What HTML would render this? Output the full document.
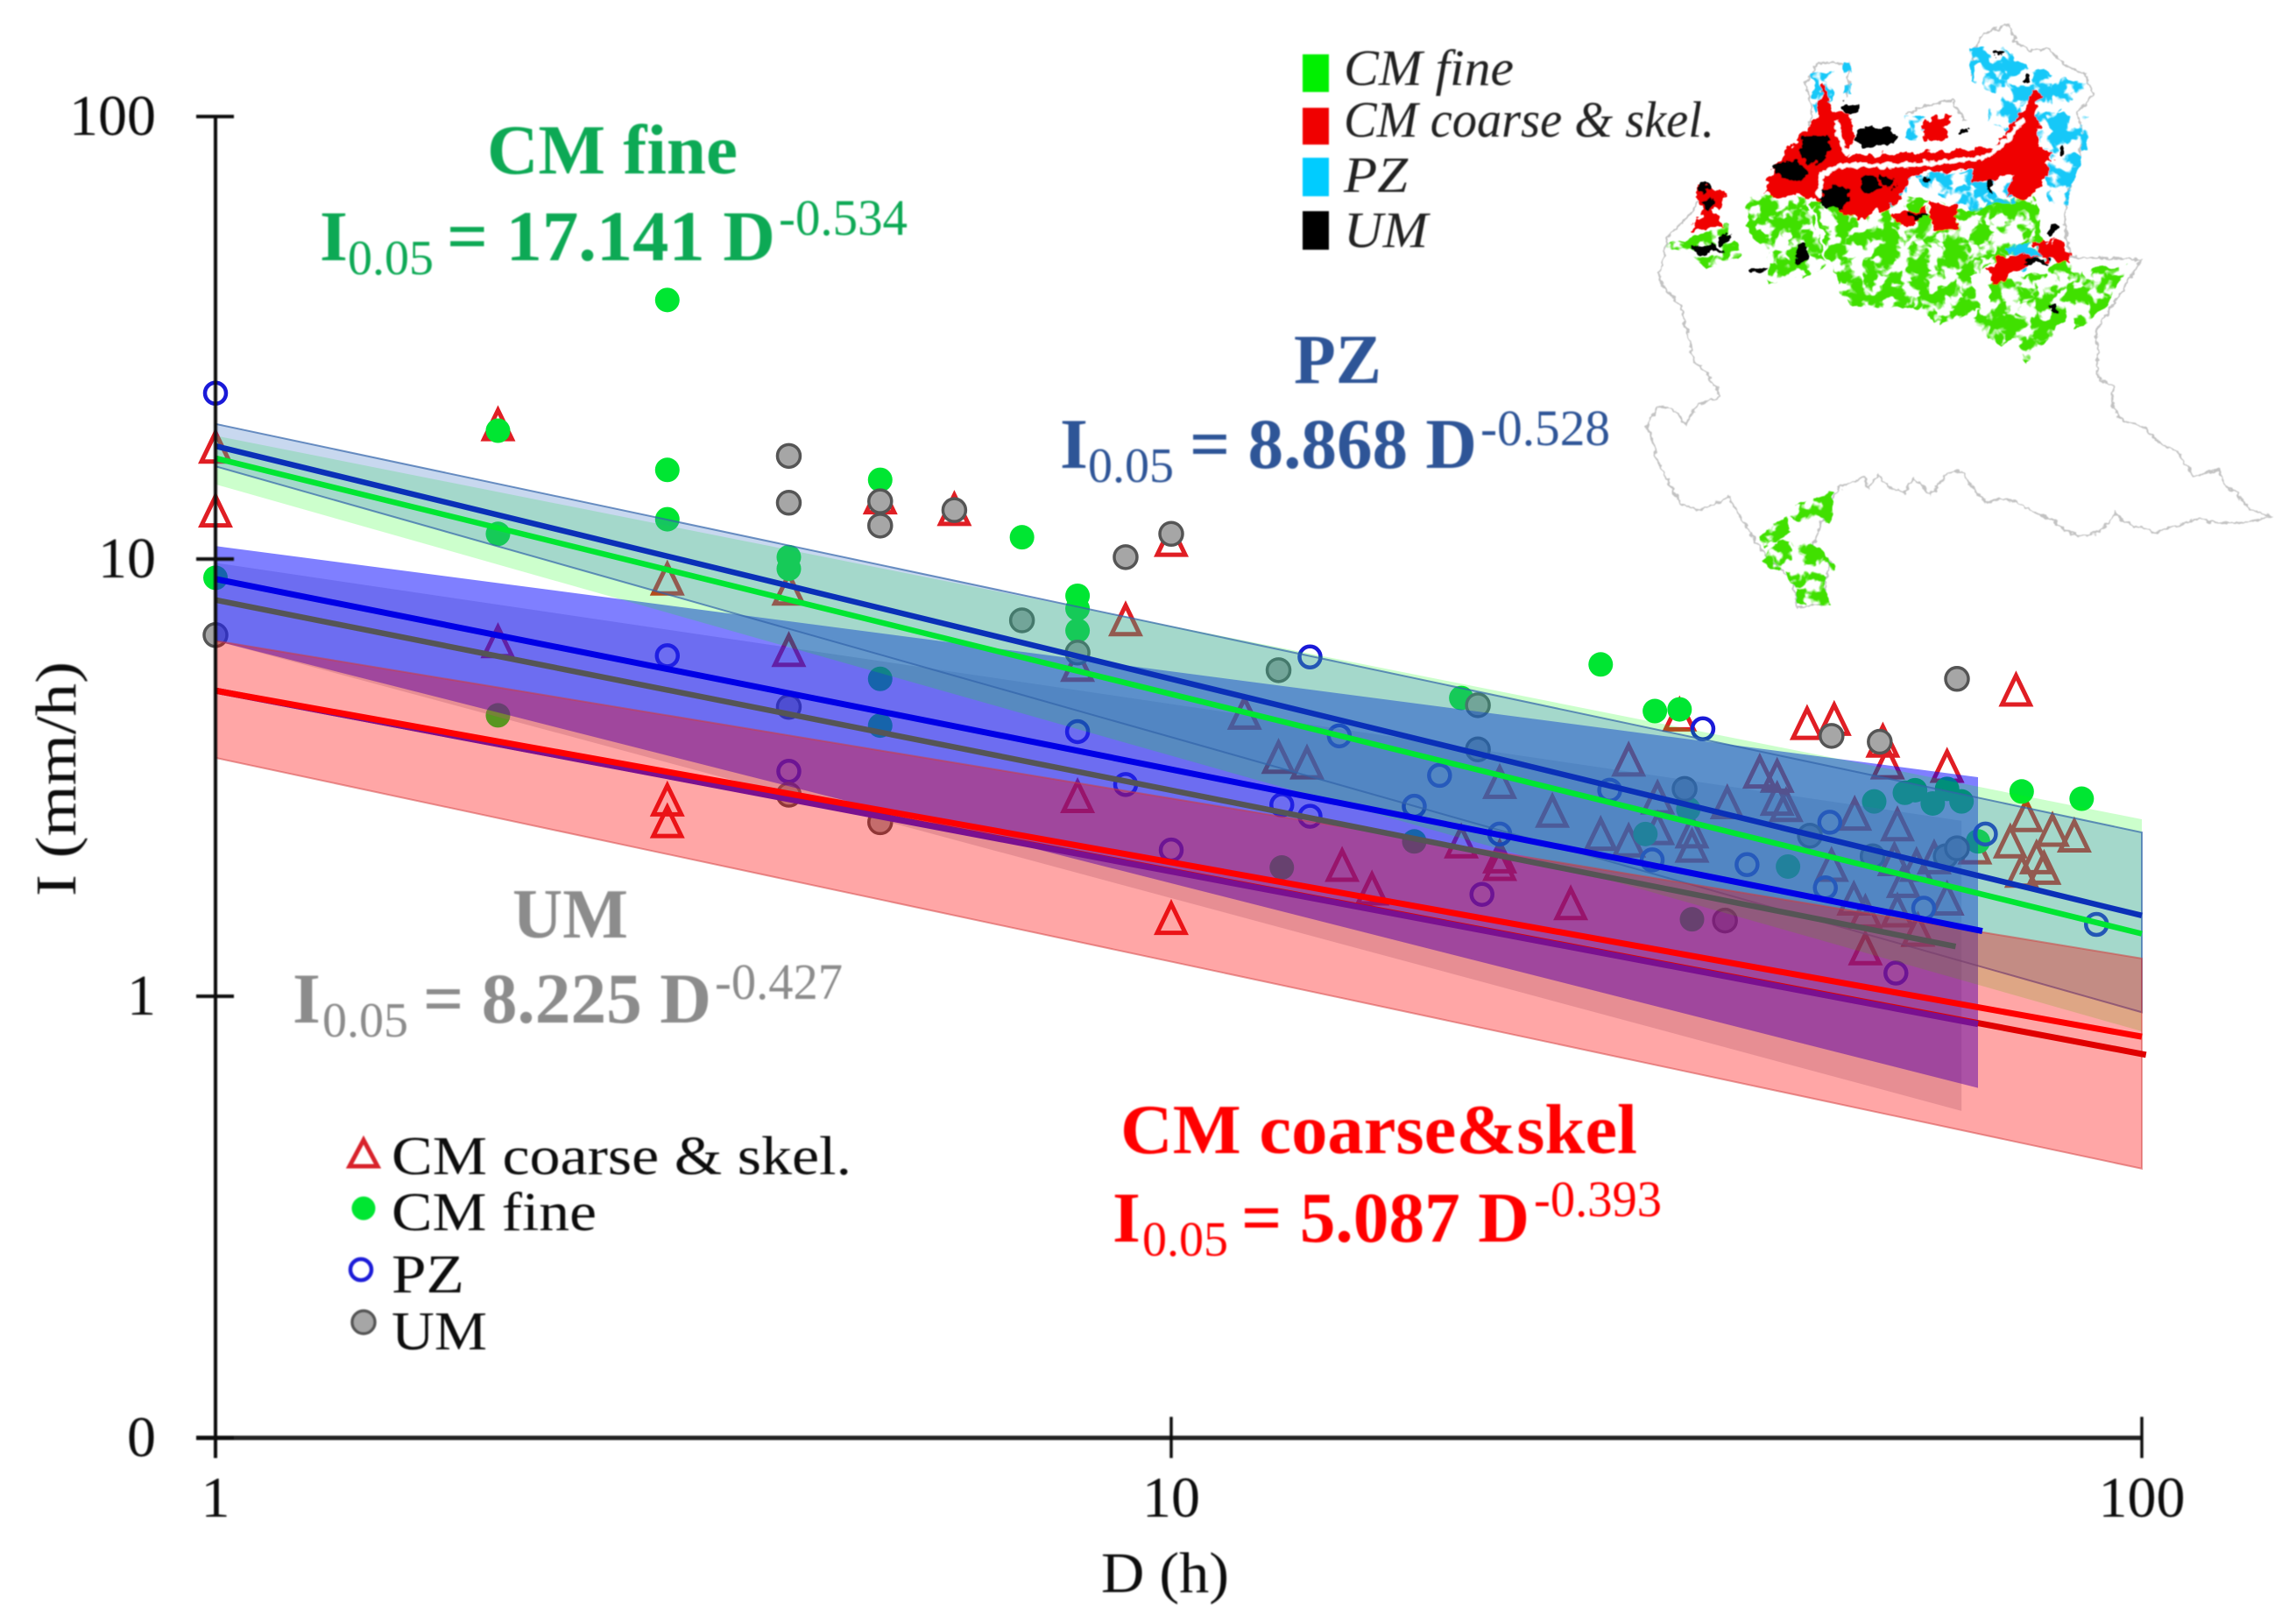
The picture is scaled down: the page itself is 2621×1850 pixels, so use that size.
<!DOCTYPE html>
<html lang="en">
<head>
<meta charset="utf-8">
<title>Rainfall intensity-duration thresholds</title>
<style>
html,body{margin:0;padding:0;background:#fff;}
svg{display:block;}
text{font-family:"Liberation Serif",serif;}
</style>
</head>
<body>
<svg id="chart" xmlns="http://www.w3.org/2000/svg" width="2621" height="1850" viewBox="0 0 2621 1850">
  <defs>
    <filter id="soft" x="-5%" y="-5%" width="110%" height="110%"><feGaussianBlur stdDeviation="1.1"/></filter>
    <filter id="softText" x="-5%" y="-20%" width="110%" height="140%"><feGaussianBlur stdDeviation="0.7"/></filter>
    <filter id="frag" x="-8%" y="-8%" width="116%" height="116%" color-interpolation-filters="sRGB">
      <feTurbulence type="fractalNoise" baseFrequency="0.028" numOctaves="3" seed="4" result="n"/>
      <feColorMatrix in="n" type="matrix" values="0 0 0 0 0  0 0 0 0 0  0 0 0 0 0  10 0 0 0 -4.3" result="mask"/>
      <feComposite in="SourceGraphic" in2="mask" operator="in" result="cut"/>
      <feDisplacementMap in="cut" in2="n" scale="26" xChannelSelector="G" yChannelSelector="B"/>
    </filter>
    <filter id="wobble" x="-8%" y="-8%" width="116%" height="116%" color-interpolation-filters="sRGB">
      <feTurbulence type="fractalNoise" baseFrequency="0.04" numOctaves="3" seed="9" result="n"/>
      <feDisplacementMap in="SourceGraphic" in2="n" scale="34" xChannelSelector="G" yChannelSelector="R"/>
    </filter>
    <filter id="wiggle" x="-3%" y="-3%" width="106%" height="106%" color-interpolation-filters="sRGB">
      <feTurbulence type="fractalNoise" baseFrequency="0.07" numOctaves="2" seed="2" result="n"/>
      <feDisplacementMap in="SourceGraphic" in2="n" scale="16" xChannelSelector="G" yChannelSelector="R"/>
    </filter>
  </defs>
  <rect width="2621" height="1850" fill="#fff"/>

  <g id="marks"></g>
  <g id="axes" filter="url(#softText)"></g>

  <g filter="url(#softText)">
    <g fill="#0aa955" font-weight="bold">
      <text x="556" y="198" font-size="80" textLength="286" lengthAdjust="spacingAndGlyphs">CM fine</text>
      <g font-size="82">
        <text x="365" y="297">I</text>
        <text x="397" y="313" font-size="56" font-weight="normal">0.05</text>
        <text x="510" y="297" textLength="375" lengthAdjust="spacingAndGlyphs">= 17.141 D</text>
        <text x="889" y="268" font-size="58" font-weight="normal" textLength="147" lengthAdjust="spacingAndGlyphs">-0.534</text>
      </g>
    </g>
    <g fill="#2f5597" font-weight="bold">
      <text x="1477" y="437" font-size="80" textLength="100" lengthAdjust="spacingAndGlyphs">PZ</text>
      <g font-size="82">
        <text x="1210" y="534">I</text>
        <text x="1242" y="550" font-size="56" font-weight="normal">0.05</text>
        <text x="1358" y="534" textLength="328" lengthAdjust="spacingAndGlyphs">= 8.868 D</text>
        <text x="1690" y="508" font-size="58" font-weight="normal" textLength="148" lengthAdjust="spacingAndGlyphs">-0.528</text>
      </g>
    </g>
    <g fill="#8c8c8c" font-weight="bold">
      <text x="585" y="1070" font-size="80" textLength="132" lengthAdjust="spacingAndGlyphs">UM</text>
      <g font-size="82">
        <text x="334" y="1167">I</text>
        <text x="368" y="1183" font-size="56" font-weight="normal">0.05</text>
        <text x="483" y="1167" textLength="329" lengthAdjust="spacingAndGlyphs">= 8.225 D</text>
        <text x="816" y="1140" font-size="58" font-weight="normal" textLength="146" lengthAdjust="spacingAndGlyphs">-0.427</text>
      </g>
    </g>
    <g fill="#ff0000" font-weight="bold">
      <text x="1279" y="1316" font-size="80" textLength="590" lengthAdjust="spacingAndGlyphs">CM coarse&amp;skel</text>
      <g font-size="82">
        <text x="1270" y="1417">I</text>
        <text x="1304" y="1433" font-size="56" font-weight="normal">0.05</text>
        <text x="1417" y="1417" textLength="329" lengthAdjust="spacingAndGlyphs">= 5.087 D</text>
        <text x="1751" y="1388" font-size="58" font-weight="normal" textLength="146" lengthAdjust="spacingAndGlyphs">-0.393</text>
      </g>
    </g>

    <g font-size="62" fill="#111">
      <g>
        <path d="M415 1301 L431 1331 L399 1331 Z" fill="none" stroke="#d8202c" stroke-width="5"/>
        <text x="447" y="1340" textLength="525" lengthAdjust="spacingAndGlyphs">CM coarse &amp; skel.</text>
      </g>
      <g>
        <circle cx="415" cy="1379" r="13.5" fill="#00e632"/>
        <text x="447" y="1404" textLength="234" lengthAdjust="spacingAndGlyphs">CM fine</text>
      </g>
      <g>
        <circle cx="412" cy="1449" r="12" fill="none" stroke="#1a1ad8" stroke-width="4.5"/>
        <text x="447" y="1475" textLength="83" lengthAdjust="spacingAndGlyphs">PZ</text>
      </g>
      <g>
        <circle cx="415" cy="1509" r="13" fill="#a6a6a6" stroke="#555" stroke-width="3.5"/>
        <text x="447" y="1540" textLength="109" lengthAdjust="spacingAndGlyphs">UM</text>
      </g>
    </g>

    <g font-size="58" font-style="italic" fill="#222">
      <g>
        <rect x="1487" y="62" width="30" height="43" fill="#00f000"/>
        <text x="1534" y="97" textLength="194" lengthAdjust="spacingAndGlyphs">CM fine</text>
      </g>
      <g>
        <rect x="1487" y="123" width="30" height="42" fill="#f00000"/>
        <text x="1534" y="156" textLength="423" lengthAdjust="spacingAndGlyphs">CM coarse &amp; skel.</text>
      </g>
      <g>
        <rect x="1487" y="180" width="30" height="44" fill="#00ccff"/>
        <text x="1534" y="219" textLength="73" lengthAdjust="spacingAndGlyphs">PZ</text>
      </g>
      <g>
        <rect x="1487" y="241" width="30" height="44" fill="#000"/>
        <text x="1534" y="282" textLength="96" lengthAdjust="spacingAndGlyphs">UM</text>
      </g>
    </g>
  </g>

  <g transform="translate(1850,0) scale(0.4917,0.459)" filter="url(#soft)">
    <path filter="url(#wiggle)" fill="none" stroke="#c2c2c2" stroke-width="4.5" d="M905 60 L915 105 L950 125 L990 120 L1030 160 L1080 185 L1095 235 L1060 280 L1075 340 L1062 400 L1040 470 L1030 560 L1045 640 L1130 642 L1208 645 L1160 730 L1105 820 L1108 940 L1145 960 L1140 1010 L1165 1045 L1210 1060 L1255 1105 L1295 1125 L1330 1185 L1385 1168 L1405 1210 L1430 1225 L1460 1265 L1510 1285 L1440 1300 L1380 1300 L1345 1290 L1290 1305 L1245 1325 L1170 1298 L1150 1275 L1120 1315 L1080 1335 L1040 1325 L1005 1295 L950 1270 L920 1245 L880 1240 L850 1250 L825 1225 L790 1170 L755 1180 L720 1230 L680 1190 L660 1225 L620 1210 L600 1180 L575 1215 L565 1185 L505 1215 L490 1240 L470 1290 L445 1365 L485 1395 L470 1505 L410 1510 L400 1445 L340 1385 L300 1325 L280 1290 L250 1235 L190 1268 L140 1255 L100 1175 L85 1145 L75 1100 L60 1055 L85 1010 L130 1020 L150 1058 L180 1005 L232 985 L200 925 L170 900 L155 830 L140 760 L100 715 L90 685 L110 590 L150 545 L185 500 M430 340 L445 280 L430 205 L460 155 L530 160 L525 240 M660 285 L700 265 L770 250 L800 300 M815 190 L820 130 L840 85 L905 60"/>

    <g fill="#3fe000" filter="url(#frag)">
      <path d="M300 480 L430 490 L460 580 L480 660 L420 700 L340 700 L340 630 L290 560 Z"/>
      <path d="M440 505 L640 480 L800 520 L960 470 L990 650 L860 660 L810 690 L840 770 L745 810 L680 760 L620 765 L530 760 L480 640 L470 580 Z"/>
      <path d="M850 690 L960 680 L1060 640 L1080 700 L1030 800 L940 900 L915 840 L885 860 L810 800 L860 750 Z"/>
      <path d="M1050 730 L1100 670 L1175 660 L1130 760 L1050 820 Z"/>
      <path d="M105 610 L250 560 L280 640 L200 665 Z"/>
      <path d="M385 1260 L495 1225 L485 1300 L395 1285 Z"/>
      <path d="M315 1330 L385 1285 L400 1320 L335 1365 Z"/>
      <path d="M365 1345 L460 1360 L500 1410 L470 1450 L482 1505 L410 1500 L410 1450 L330 1395 Z"/>
    </g>
    <g fill="#12c8f8" filter="url(#frag)">
      <path d="M815 120 L890 120 L950 170 L1085 210 L1010 280 L1085 290 L1085 370 L985 380 L950 280 L900 330 L850 300 L870 230 L810 200 Z"/>
      <path d="M670 430 L800 430 L850 410 L935 400 L920 500 L820 520 L730 480 Z"/>
      <path d="M445 185 L495 175 L490 255 L450 280 Z"/>
      <path d="M660 290 L730 290 L710 355 L660 340 Z"/>
      <path d="M985 380 L1070 385 L1040 510 L995 510 Z"/>
      <path d="M515 155 L537 155 L535 235 L515 235 Z"/>
      <path d="M590 470 L670 440 L650 510 L595 520 Z"/>
      <path d="M900 610 L990 600 L1000 650 L910 680 Z"/>
    </g>
    <g fill="#f00000" stroke="#f00000" stroke-width="10" filter="url(#wobble)">
      <path d="M345 445 L420 345 L465 280 L470 210 L490 290 L535 290 L525 395 L700 385 L870 370 L930 290 L965 220 L965 370 L1000 385 L960 490 L900 480 L920 430 L820 450 L820 415 L700 425 L660 440 L650 490 L555 545 L470 490 L345 480 Z"/>
      <path d="M180 465 L240 480 L212 525 L232 565 L172 565 L195 522 Z"/>
      <path d="M855 665 L890 640 L960 640 L890 690 L870 700 Z"/>
      <path d="M640 540 L700 525 L660 565 Z"/><path d="M725 510 L780 520 L770 565 L730 565 Z"/>
      <path d="M960 610 L1020 600 L1040 650 L990 640 Z"/>
      <path d="M705 310 L760 290 L745 345 L710 345 Z"/>
    </g>
    <g fill="#000" filter="url(#wobble)">
      <ellipse cx="395" cy="425" rx="38" ry="24"/><ellipse cx="450" cy="370" rx="36" ry="34"/><ellipse cx="500" cy="490" rx="36" ry="30"/>
      <ellipse cx="530" cy="268" rx="26" ry="16"/><ellipse cx="590" cy="340" rx="52" ry="26"/><ellipse cx="580" cy="460" rx="18" ry="24"/>
      <ellipse cx="620" cy="455" rx="18" ry="16"/><ellipse cx="420" cy="630" rx="14" ry="26"/><ellipse cx="190" cy="465" rx="13" ry="13"/>
      <ellipse cx="205" cy="510" rx="12" ry="14"/><ellipse cx="195" cy="620" rx="40" ry="9"/><ellipse cx="240" cy="595" rx="12" ry="14"/>
      <ellipse cx="965" cy="650" rx="32" ry="8"/><ellipse cx="1000" cy="575" rx="10" ry="14"/><ellipse cx="1005" cy="767" rx="8" ry="8"/>
      <ellipse cx="710" cy="445" rx="10" ry="8"/><ellipse cx="860" cy="460" rx="10" ry="16"/><ellipse cx="320" cy="672" rx="26" ry="8"/>
      <ellipse cx="690" cy="535" rx="26" ry="6"/><ellipse cx="795" cy="327" rx="8" ry="6"/>
      <ellipse cx="1025" cy="375" rx="8" ry="10"/><ellipse cx="880" cy="135" rx="14" ry="8"/><ellipse cx="940" cy="195" rx="10" ry="10"/>
    </g>
    <path fill="none" stroke="#fff" stroke-width="11" filter="url(#wiggle)" d="M460 490 L468 432 L520 410 L620 412 L730 405 L850 390 L900 345 L935 295 M500 300 L510 350 L530 385"/>
  </g>
</svg>

<script>
// Point data: duration D (h) and intensity I (mm/h)
const coarseD = [1,1,1.975,1.975,2.97,2.97,2.97,3.98,3.98,4.96,5.93,7.98,7.98,8.96,10,10,11.9,12.9,13.8,15,16.1,19.9,21.8,21.8,21.8,24.7,25.8,27.7,29.6,29.6,31.7,31.7,34.4,34.4,33.4,37.4,40.4,42.1,42.1,43,45.2,48.2,50.6,56,47.9,50.5,51.9,51.9,54.7,54.1,55.6,56,56.8,58.8,58.6,61.1,63,63,67.3,76,73.2,80.9,85.2,75.2,77.9,79.3,74.2];
const coarseI = [17.7,12.7,19.9,6.4,8.9,2.78,2.48,8.44,6.11,13.6,12.8,5.65,2.83,7.18,10.9,1.49,4.39,3.48,3.38,1.97,1.74,2.23,3.05,2.06,1.98,2.62,1.61,2.32,3.43,2.24,2.81,2.39,2.35,2.18,4.35,2.74,3.22,3.15,2.79,2.7,4.16,4.25,2.58,2.44,1.97,1.65,1.54,1.27,3.38,3.79,2.03,1.55,1.81,1.4,1.97,2.05,3.32,1.65,2.16,2.56,2.23,2.37,2.3,1.91,2.05,1.94,4.96];
const fineD = [1,1.975,1.975,1.975,2.97,2.97,2.97,3.98,3.98,4.96,4.96,4.96,6.98,7.98,7.98,7.98,13,17.8,19.9,27.7,31.5,33.4,34.1,30.8,34.4,43.2,53,57,58.4,60.9,63,65.2,67.8,75.2,86.7];
const fineI = [9.06,19.5,11.4,4.39,38.5,15.9,12.3,10.1,9.5,15.1,5.32,4.16,11.2,8.24,7.7,6.86,1.97,2.26,4.81,5.74,4.49,4.53,2.68,2.35,1.5,1.98,2.79,2.92,2.96,2.76,2.98,2.79,2.26,2.94,2.83];
const pzD = [1,2.97,3.98,7.98,8.96,10,13,13.9,13.9,14.9,17.8,18.9,20.9,21.8,28.3,31.3,35.3,39.2,47.7,47.2,55.8,59.6,69,89.8];
const pzI = [23.7,6.01,3.27,4.03,3.05,2.16,2.74,5.97,2.58,3.94,2.72,3.2,1.71,2.35,2.96,2.05,4.09,2,2.5,1.77,1.13,1.59,2.35,1.46];
const umD = [1,3.98,3.98,4.96,4.96,5.93,6.98,7.98,8.96,10,3.98,3.98,4.96,12.9,20.7,20.7,33.8,37.2,45.5,47.9,53.7,64.5,52.8,62.8,64.5];
const umI = [6.7,17.1,13.4,13.5,11.9,12.9,7.24,6.11,10.1,11.4,4.59,2.89,2.5,5.57,4.63,3.67,2.98,1.49,2.33,3.94,3.82,5.32,2.09,2.09,2.18];

// Threshold bands: duration range, upper and lower intensity at each end
const redBandD = [1,100];
const redBandUpper = [6.5,1.22];
const redBandLower = [3.51,0.407];
const umBandD = [1,65.2];
const umBandUpper = [9.8,2.52];
const umBandLower = [6.5,0.55];
const blueBandD = [1,67.8];
const blueBandUpper = [10.7,3.17];
const blueBandLower = [6.5,0.62];
const greenBandD = [1,100];
const greenBandUpper = [19,2.54];
const greenBandLower = [14.75,0.833];
const tealBandD = [1,100];
const tealBandUpper = [20.2,2.37];
const tealBandLower = [16.2,0.92];

// Fitted lines: duration range and intensity at each end
const red2LineD = [1,101];
const red2LineI = [5,0.737];
const red2OverlapD = [1,67.8];
const red2OverlapI = [5,0.865];
const redLineD = [1,100];
const redLineI = [5,0.81];
const umLineD = [1,64.3];
const umLineI = [8.06,1.3];
const pzLineD = [1,68.5];
const pzLineI = [9,1.41];
const pzUpperLineD = [1,100];
const pzUpperLineI = [18,1.53];
const fineLineD = [1,100];
const fineLineI = [16.9,1.39];

// Axis ticks
const xTicks = [1,10,100];
const xTickLabels = ['1','10','100'];
const yTicks = [100,10,1,0.1];
const yTickLabels = ['100','10','1','0'];

const NS = 'http://www.w3.org/2000/svg';
const marks = document.getElementById('marks');
const axes = document.getElementById('axes');

function xScale(d){
  const l = Math.log10(d);
  return l <= 1 ? 246 + l * 1091 : 1337 + (l - 1) * 1108;
}
function yScale(v){
  const l = Math.log10(v);
  if (l >= 1) return 133 + (2 - l) * 505;
  if (l >= 0) return 638 + (1 - l) * 499;
  return 1137 - l * 504;
}
function make(tag, attrs, parent){
  const el = document.createElementNS(NS, tag);
  for (const k in attrs) el.setAttribute(k, attrs[k]);
  parent.appendChild(el);
  return el;
}

function drawTriangles(ds, is){
  ds.forEach(function(d, i){
    const x = xScale(d), y = yScale(is[i]);
    const el = make('path', {d:'M'+x+' '+(y-19)+' L'+(x+16)+' '+(y+14)+' L'+(x-16)+' '+(y+14)+' Z', fill:'none', stroke:'#e01e24', 'stroke-width':5}, marks);
    
    
  });
}
function drawCircles(ds, is, name, r, fill, stroke, sw){
  ds.forEach(function(d, i){
    const el = make('circle', {cx:xScale(d), cy:yScale(is[i]), r:r, fill:fill, stroke:stroke, 'stroke-width':sw}, marks);
    
    
  });
}
function drawBand(ds, up, lo, name, fill, edge){
  const pts = [[ds[0],up[0]],[ds[1],up[1]],[ds[1],lo[1]],[ds[0],lo[0]]]
    .map(function(p){ return xScale(p[0]) + ',' + yScale(p[1]); }).join(' ');
  const el = make('polygon', {points:pts, fill:fill, stroke:edge, 'stroke-width':2}, marks);
  
  
}
function drawLine(ds, is, name, color, w){
  const el = make('line', {x1:xScale(ds[0]), y1:yScale(is[0]), x2:xScale(ds[1]), y2:yScale(is[1]), stroke:color, 'stroke-width':w}, marks);
  
  
}

// Markers sit beneath the translucent bands
drawTriangles(coarseD, coarseI);
drawCircles(fineD, fineI, 'cm-fine-point', 14, '#00e632', 'none', 0);
drawCircles(pzD, pzI, 'pz-point', 12, 'none', '#1a1ad8', 4.5);
drawCircles(umD, umI, 'um-point', 13, '#a6a6a6', '#555', 3.5);

drawBand(umBandD, umBandUpper, umBandLower, 'um-band', 'rgba(140,140,165,0.32)', 'none');
drawBand(blueBandD, blueBandUpper, blueBandLower, 'pz-lower-band', 'rgba(0,0,255,0.5)', 'none');
drawBand(greenBandD, greenBandUpper, greenBandLower, 'cm-fine-band', 'rgba(0,255,0,0.2)', 'none');
drawBand(tealBandD, tealBandUpper, tealBandLower, 'pz-upper-band', 'rgba(73,127,203,0.3)', 'rgba(50,100,170,0.7)');
drawBand(redBandD, redBandUpper, redBandLower, 'cm-coarse-band', 'rgba(255,0,0,0.35)', 'rgba(210,60,60,0.5)');

drawLine(red2LineD, red2LineI, 'cm-coarse-lower-line', '#e00000', 7);
drawLine(red2OverlapD, red2OverlapI, 'cm-coarse-lower-line-under-pz-band', '#7a1090', 7);
drawLine(redLineD, redLineI, 'cm-coarse-line', '#ff0000', 7);
drawLine(umLineD, umLineI, 'um-line', '#555555', 6.5);
drawLine(pzLineD, pzLineI, 'pz-line', '#0000e6', 7);
drawLine(pzUpperLineD, pzUpperLineI, 'pz-upper-line', '#0a30b8', 6.5);
drawLine(fineLineD, fineLineI, 'cm-fine-line', '#00e632', 6.5);

// Axes
const yAxis = make('line', {x1:xScale(1), y1:yScale(100), x2:xScale(1), y2:1664, stroke:'#111', 'stroke-width':4}, axes);


const xAxis = make('line', {x1:224, y1:yScale(0.1), x2:xScale(100), y2:yScale(0.1), stroke:'#222', 'stroke-width':5}, axes);



yTicks.forEach(function(v, i){
  const y = yScale(v);
  const tick = make('line', {x1:224, y1:y, x2:267, y2:y, stroke:'#111', 'stroke-width':4}, axes);
  
  
  const label = make('text', {x:178, y:y + 21, 'text-anchor':'end', 'font-size':66, fill:'#111'}, axes);
  
  
  label.textContent = yTickLabels[i];
});
xTicks.forEach(function(v, i){
  const x = xScale(v);
  const tick = make('line', {x1:x, y1:1617, x2:x, y2:1664, stroke:'#111', 'stroke-width':3.5}, axes);
  
  
  const label = make('text', {x:x, y:1731, 'text-anchor':'middle', 'font-size':66, fill:'#111'}, axes);
  
  
  label.textContent = xTickLabels[i];
});
const xTitle = make('text', {x:1330, y:1817, 'text-anchor':'middle', 'font-size':66, fill:'#111', textLength:146, lengthAdjust:'spacingAndGlyphs'}, axes);


xTitle.textContent = 'D (h)';
const yTitle = make('text', {transform:'translate(86,889) rotate(-90)', 'text-anchor':'middle', 'font-size':66, fill:'#111', textLength:268, lengthAdjust:'spacingAndGlyphs'}, axes);


yTitle.textContent = 'I (mm/h)';
</script>
</body>
</html>
